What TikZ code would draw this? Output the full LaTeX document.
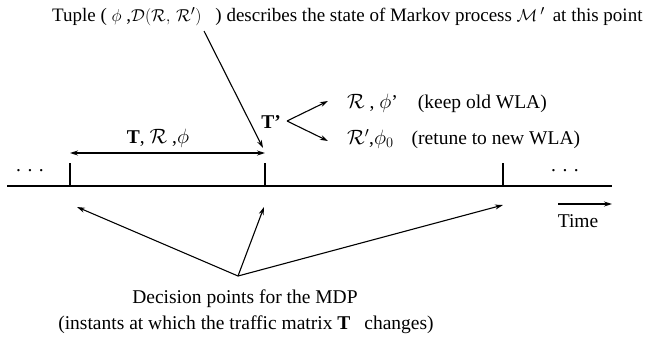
\documentclass[tikz,border=0pt]{standalone}
\usepackage{fontspec}
\setmainfont{Liberation Serif}
\usetikzlibrary{arrows.meta}
\tikzset{
  conn/.style={line width=1.1pt,-{Stealth[length=8pt,width=5pt]}},
  plain/.style={line width=1.1pt},
  lbl/.style={inner sep=0pt,font=\fontsize{19.5}{22}\selectfont},
}
\begin{document}
\begin{tikzpicture}[x=1pt,y=-1pt]
\useasboundingbox (0,0) rectangle (658,341);
% top text
\node[lbl,anchor=west,font=\fontsize{19}{22}\selectfont] (top) at (52,17) {Tuple ( $\phi$ ,$\mathcal{D}(\mathcal{R},\,\mathcal{R}')$\hspace{14pt}) describes the state of Markov process $\mathcal{M}\,'$\hspace{8pt}at this point};
\coordinate (ts) at (204,31);
% timeline
\coordinate (L) at (7,186);
\coordinate (R) at (612,186);
\draw[plain] (L) -- (R);
\coordinate (k1b) at (70,186); \coordinate (k1t) at (70,163);
\coordinate (k2b) at (265,186); \coordinate (k2t) at (265,163);
\coordinate (k3b) at (503,186); \coordinate (k3t) at (503,163);
\draw[plain] (k1b) -- (k1t);
\draw[plain] (k2b) -- (k2t);
\draw[plain] (k3b) -- (k3t);
\node[lbl] (dl) at (30,171) {. . .};
\node[lbl] (dr) at (565,171) {. . .};
% tuple arrow
\coordinate (te) at (263,148);
\draw[conn] (ts) -- (te);
% interval
\coordinate (ia) at (70,153);
\coordinate (ib) at (265,153);
\draw[line width=1.1pt,{Stealth[length=8pt,width=5pt]}-{Stealth[length=8pt,width=5pt]}] (ia) -- (ib);
\node[lbl] (int) at (158,138) {\textbf{T}, $\mathcal{R}$ ,$\phi$};
% T'
\node[lbl] (tp) at (271,122) {\textbf{T'}};
\coordinate (ba) at (287,121);
\coordinate (bu) at (328,101);
\coordinate (bl) at (328,141);
\draw[conn] (ba) -- (bu);
\draw[conn] (ba) -- (bl);
\node[lbl,anchor=west] (keep) at (347,103) {$\mathcal{R}$ , $\phi$'\hspace{20pt}(keep old WLA)};
\node[lbl,anchor=west] (ret) at (347,139) {$\mathcal{R}'$,$\phi_0$\hspace{18pt}(retune to new WLA)};
% time arrow
\coordinate (ta) at (558,204);
\coordinate (tb) at (612,204);
\draw[conn] (ta) -- (tb);
\node[lbl] (time) at (578,221) {Time};
% decision arrows
\coordinate (dp) at (238,276);
\coordinate (d1) at (77,207);
\coordinate (d2) at (264,207);
\coordinate (d3) at (503,205);
\draw[conn] (dp) -- (d1);
\draw[conn] (dp) -- (d2);
\draw[conn] (dp) -- (d3);
\node[lbl] (dec1) at (245,299) {Decision points for the MDP};
\node[lbl] (dec2) at (246,325) {(instants at which the traffic matrix \textbf{T}\hspace{14pt}changes)};
\end{tikzpicture}
\end{document}
